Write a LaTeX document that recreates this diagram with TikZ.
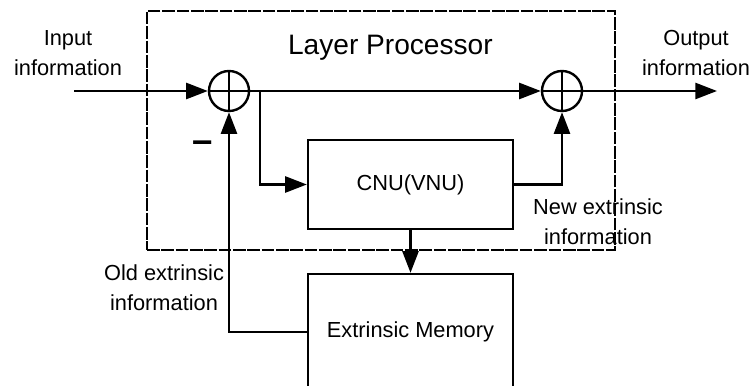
\documentclass[tikz,border=0pt]{standalone}
\usepackage{fontspec}
\setmainfont{Liberation Sans}
\usetikzlibrary{arrows.meta,positioning,calc}

\begin{document}
\begin{tikzpicture}[
    font=\fontsize{15.5}{21.3}\selectfont,
    wire/.style={
        line width=1.7pt,
        -{Triangle[length=5.4mm,width=4mm]}
    },
    proc/.style={
        rectangle,
        draw=black,
        line width=1.7pt,
        text centered,
        align=center,
        minimum width=5.125cm
    },
    adder/.style={
        circle,
        draw=black,
        line width=1.7pt,
        minimum size=1cm,
        inner sep=0pt,
        path picture={
            \draw[line width=1.7pt]
                (path picture bounding box.north) -- (path picture bounding box.south)
                (path picture bounding box.west) -- (path picture bounding box.east);
        }
    },
    layer/.style={
        rectangle,
        draw=black,
        line width=1.2pt,
        dash pattern=on 9pt off 1.2pt,
        minimum width=11.7cm,
        minimum height=5.975cm
    },
    label/.style={
        align=center,
        text centered
    }
]

\useasboundingbox (0,0) rectangle (18.825,-9.65);

% === NODES ===

% Layer processor frame
\node[layer] (lp) at (9.525,-3.2625) {};
\node[font=\fontsize{20}{24}\selectfont] (title) at (9.76,-1.2) {Layer Processor};

% Adders
\node[adder] (sumA) at (5.725,-2.275) {};
\node[adder] (sumB) at (14.05,-2.275) {};
\node[font=\fontsize{26}{26}\selectfont\bfseries] (minus) at (5.075,-3.66) {\textendash};

% Check node unit
\node[proc, minimum height=2.225cm] (cnu) at (10.2625,-4.6125) {CNU(VNU)};

% Memory (bottom runs out of the picture)
\node[proc, minimum height=2.9cm] (mem) at (10.2625,-8.3) {Extrinsic Memory};

% In / out ends
\coordinate (inp) at (1.85,-2.275);
\coordinate (outp) at (17.925,-2.275);
\coordinate (split) at (6.5,-2.275);

% Labels
\node[label] (inlabel) at (1.7,-1.33) {Input\\information};
\node[label] (outlabel) at (17.4,-1.33) {Output\\information};
\node[label] (newlabel) at (14.95,-5.55) {New extrinsic\\information};
\node[label] (oldlabel) at (4.1,-7.2) {Old extrinsic\\information};

% === ARROWS ===

% 1. Input to first adder
\draw[wire] (inp) -- (sumA.west);

% 2. First adder to second adder
\draw[wire] (sumA.east) -- (sumB.west);

% 3. Branch into CNU
\draw[wire] (split) |- (cnu.west);

% 4. CNU to second adder
\draw[wire] (cnu.east) -| (sumB.south);

% 5. Second adder to output
\draw[wire] (sumB.east) -- (outp);

% 6. CNU to memory
\draw[wire] (cnu.south) -- (mem.north);

% 7. Memory back to first adder
\draw[wire] (mem.west) -| (sumA.south);

\end{tikzpicture}
\end{document}
